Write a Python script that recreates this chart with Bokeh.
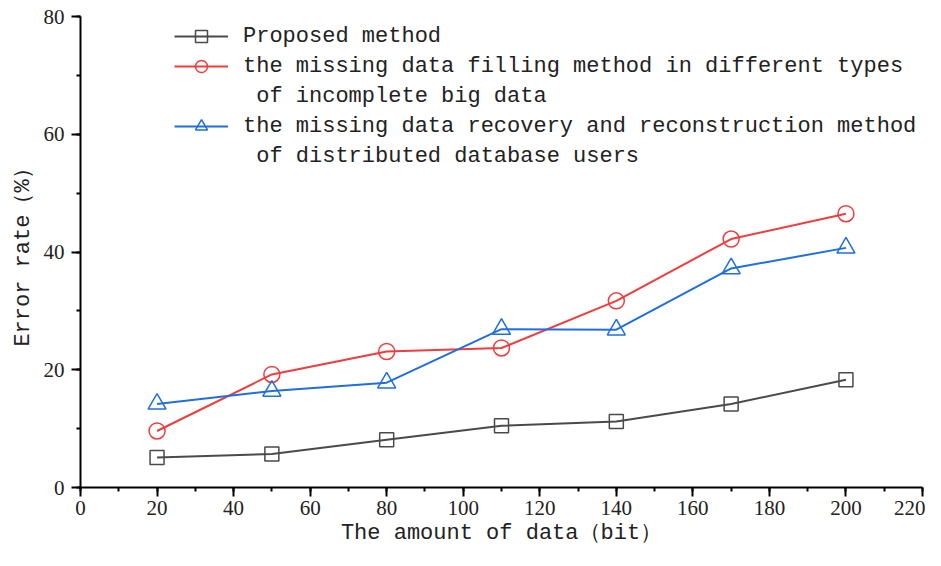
from bokeh.plotting import figure
from bokeh.models import Legend, LegendItem, Range1d, FixedTicker
from bokeh.embed import file_html
from bokeh.resources import INLINE

x_vals = [20, 50, 80, 110, 140, 170, 200]
proposed = [5.1, 5.7, 8.1, 10.5, 11.2, 14.2, 18.3]
filling = [9.6, 19.2, 23.1, 23.7, 31.7, 42.2, 46.5]
recovery = [14.2, 16.4, 17.8, 26.9, 26.8, 37.2, 40.7]
x_ticks = list(range(0, 221, 20))
x_minor = list(range(0, 221, 10))
y_ticks = [0, 20, 40, 60, 80]
y_minor = list(range(0, 81, 10))
series_names = [
    "Proposed method",
    "the missing data filling method in different types",
    "the missing data recovery and reconstruction method",
]
continuations = [
    None,
    "\u00a0of incomplete big data",
    "\u00a0of distributed database users",
]
x_title = "The amount of data（bit）"
y_title = "Error rate（%）"

MONO = "Liberation Mono"
SERIF = "Liberation Serif"

p = figure(width=925, height=550, output_backend="svg", toolbar_location=None,
           x_range=Range1d(0, 220), y_range=Range1d(0, 80),
           x_axis_label=x_title, y_axis_label=y_title,
           min_border_left=80, min_border_right=3, min_border_top=16, min_border_bottom=63)
p.outline_line_color = None
p.grid.visible = False
p.background_fill_color = "white"

p.xaxis.ticker = FixedTicker(ticks=x_ticks, minor_ticks=x_minor)
p.yaxis.ticker = FixedTicker(ticks=y_ticks, minor_ticks=y_minor)
for ax in (p.xaxis[0], p.yaxis[0]):
    ax.axis_line_width = 2
    ax.axis_line_color = "black"
    ax.major_tick_line_width = 2
    ax.minor_tick_line_width = 2
    ax.major_tick_line_color = "black"
    ax.minor_tick_line_color = "black"
    ax.major_tick_out = 9
    ax.major_tick_in = 0
    ax.minor_tick_out = 4
    ax.minor_tick_in = 0
    ax.major_label_text_font = SERIF
    ax.major_label_text_font_size = "21px"
    ax.major_label_text_color = "#222222"
    ax.axis_label_text_font = MONO
    ax.axis_label_text_font_size = "22px"
    ax.axis_label_text_font_style = "normal"
    ax.axis_label_text_color = "#222222"
p.xaxis[0].major_label_standoff = 4
p.yaxis[0].major_label_standoff = 7
p.xaxis[0].axis_label_standoff = 3
p.yaxis[0].axis_label_standoff = 5

colors = ["#4a4a4a", "#f03c3c", "#1f6fe0"]
markers = ["square", "circle", "triangle"]
sizes = [14, 16, 18]
ys = [proposed, filling, recovery]
items = []
for name, cont, col, mk, sz, yv in zip(series_names, continuations, colors, markers, sizes, ys):
    ln = p.line(x_vals, yv, line_color=col, line_width=2)
    sc = p.scatter(x_vals, yv, marker=mk, size=sz, line_color=col, line_width=1.5,
                   fill_color=None)
    items.append(LegendItem(label=name, renderers=[ln, sc]))
    if cont is not None:
        blank = p.line([], [], line_alpha=0)
        items.append(LegendItem(label=cont, renderers=[blank]))

legend = Legend(items=items, location=(94, 316))
legend.glyph_width = 54
legend.glyph_height = 30
legend.label_height = 30
legend.label_standoff = 15
legend.padding = 0
legend.spacing = 0
legend.margin = 0
legend.border_line_alpha = 0
legend.background_fill_alpha = 0
legend.label_text_font = MONO
legend.label_text_font_size = "22px"
legend.label_text_color = "#222222"
p.add_layout(legend, "center")

open("out.html", "w").write(file_html(p, INLINE))
